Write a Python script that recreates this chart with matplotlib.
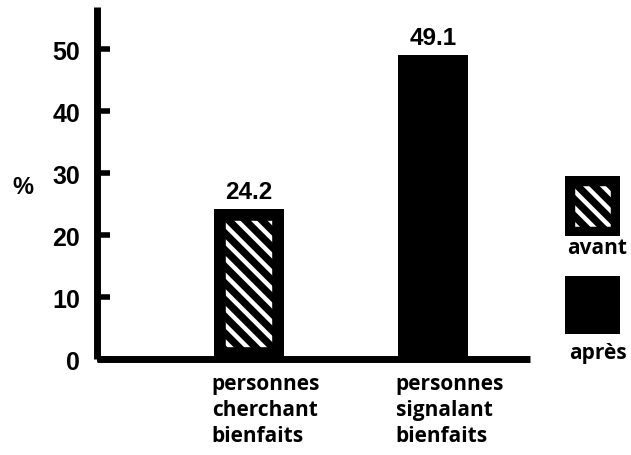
import matplotlib
matplotlib.use('Agg')
import matplotlib.pyplot as plt
from matplotlib.patches import Rectangle

# values
categories = ['personnes\ncherchant\nbienfaits', 'personnes\nsignalant\nbienfaits']
series = ['avant', 'après']
values = [24.2, 49.1]
yticks = [0, 10, 20, 30, 40, 50]

plt.rcParams['hatch.linewidth'] = 3.2

fig = plt.figure(figsize=(6.31, 4.56), dpi=100)
ax = fig.add_axes([0.1537, 0.2105, 0.6862, 0.772])

pos = list(range(len(values)))
w = 0.38
hatched = [True, False]

for i, v in enumerate(values):
    if hatched[i]:
        ax.bar(pos[i], v, w, color='black', edgecolor='white', linewidth=0,
               hatch='\\\\', zorder=2)
        # thick black frame kept inside the bar
        fr = ax.bar(pos[i], v, w, fill=False, edgecolor='black', linewidth=17,
                    joinstyle='miter', zorder=3)
        for r in fr:
            r.set_clip_path(r)
    else:
        ax.bar(pos[i], v, w, color='black', linewidth=0, zorder=2)
    ax.text(pos[i], v + 0.9, f'{v:.1f}', ha='center', va='bottom',
            fontsize=17.5, fontweight='bold', family='Liberation Sans')
    ax.text(pos[i] - w / 2 - 0.012, -2.3, categories[i], ha='left', va='top',
            fontsize=15, fontweight='bold', family='Open Sans', linespacing=1.3)

ax.set_xlim(-0.826, 1.527)
ax.set_ylim(0, 56.8)
ax.set_xticks([])
ax.set_yticks(yticks)
ax.set_yticklabels([str(t) for t in yticks], fontsize=18, fontweight='bold',
                   family='Liberation Sans')
ax.tick_params(axis='y', direction='in', length=9, width=4, pad=12)

for s in ['top', 'right']:
    ax.spines[s].set_visible(False)
for s in ['left', 'bottom']:
    ax.spines[s].set_linewidth(5)
    ax.spines[s].set_capstyle('butt')

fig.text(0.036, 1 - 188 / 456, '%', ha='center', va='center', fontsize=17,
         fontweight='bold', family='Liberation Sans')

# legend boxes with labels underneath
bw, bh = 55 / 631, 60 / 456
lx = 565 / 631
box1 = Rectangle((lx, 1 - 237 / 456), bw, bh, transform=fig.transFigure,
                 facecolor='black', edgecolor='white', linewidth=0, hatch='\\\\')
fig.add_artist(box1)
frame = Rectangle((lx, 1 - 237 / 456), bw, bh, transform=fig.transFigure,
                  fill=False, edgecolor='black', linewidth=14, joinstyle='miter')
fig.add_artist(frame)
frame.set_clip_path(frame)
box2 = Rectangle((lx, 1 - 335 / 456), bw, 58 / 456, transform=fig.transFigure,
                 facecolor='black', linewidth=0)
fig.add_artist(box2)

fig.text(lx + bw / 2 + 0.008, 1 - 249 / 456, series[0], ha='center', va='center',
         fontsize=15, fontweight='bold', family='Open Sans')
fig.text(lx + bw / 2 + 0.008, 1 - 353 / 456, series[1], ha='center', va='center',
         fontsize=15, fontweight='bold', family='Open Sans')

fig.savefig('out.png', dpi=100)
